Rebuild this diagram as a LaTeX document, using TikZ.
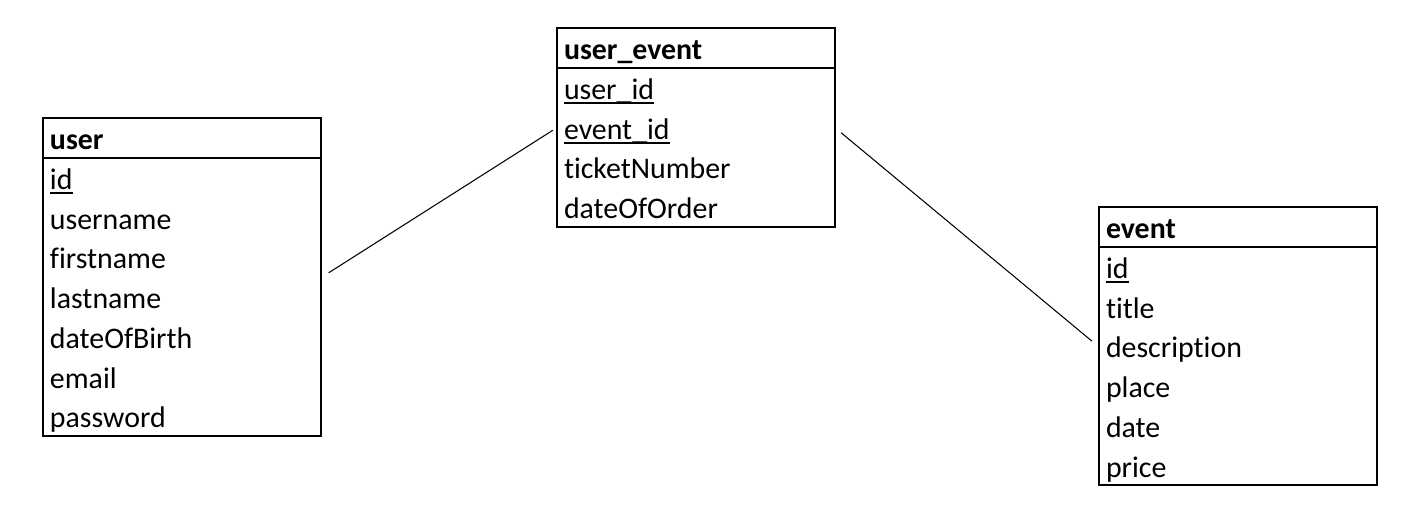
\documentclass[tikz,border=0pt]{standalone}
\usepackage{fontspec}
\setmainfont{Carlito}[Ligatures=NoCommon]
\usetikzlibrary{positioning,fit}
\newcommand{\pkey}[1]{\setbox0\hbox{#1}\rlap{\rule[-2.6pt]{\wd0}{0.9pt}}\box0}

\begin{document}
\begin{tikzpicture}[x=0.02cm, y=-0.02cm,
    tablehead/.style={draw, line width=1.1pt, anchor=north west, outer sep=0pt,
      text width=5.28cm, inner xsep=0.14cm, inner ysep=0pt, align=left,
      text height=0.64cm, text depth=0.16cm, font=\fontsize{17}{20}\selectfont\bfseries},
    tablerow/.style={outer sep=0pt, text width=5.28cm, inner xsep=0.14cm, inner ysep=0pt,
      align=left, text height=0.63cm, text depth=0.165cm, font=\fontsize{17}{20}\selectfont},
    tablebox/.style={draw, line width=1.1pt, inner sep=0pt},
    relation/.style={line width=0.6pt}]
  \useasboundingbox (0,0) rectangle (1418,517);

  % user table
  \node[tablehead] (uHead) at (43,118) {user};
  \node[tablerow, below=0pt of uHead] (uRow1) {\pkey{id}};
  \node[tablerow, below=0pt of uRow1] (uRow2) {username};
  \node[tablerow, below=0pt of uRow2] (uRow3) {firstname};
  \node[tablerow, below=0pt of uRow3] (uRow4) {lastname};
  \node[tablerow, below=0pt of uRow4] (uRow5) {dateOfBirth};
  \node[tablerow, below=0pt of uRow5] (uRow6) {email};
  \node[tablerow, below=0pt of uRow6] (uRow7) {password};
  \node[tablebox, fit=(uHead)(uRow7)] (user) {};

  % user_event table
  \node[tablehead] (ueHead) at (557,28) {user\_event};
  \node[tablerow, below=0pt of ueHead] (ueRow1) {\pkey{user\_id}};
  \node[tablerow, below=0pt of ueRow1] (ueRow2) {\pkey{event\_id}};
  \node[tablerow, below=0pt of ueRow2] (ueRow3) {ticketNumber};
  \node[tablerow, below=0pt of ueRow3] (ueRow4) {dateOfOrder};
  \node[tablebox, fit=(ueHead)(ueRow4)] (userEvent) {};

  % event table
  \node[tablehead] (eHead) at (1099,207) {event};
  \node[tablerow, below=0pt of eHead] (eRow1) {\pkey{id}};
  \node[tablerow, below=0pt of eRow1] (eRow2) {title};
  \node[tablerow, below=0pt of eRow2] (eRow3) {description};
  \node[tablerow, below=0pt of eRow3] (eRow4) {place};
  \node[tablerow, below=0pt of eRow4] (eRow5) {date};
  \node[tablerow, below=0pt of eRow5] (eRow6) {price};
  \node[tablebox, fit=(eHead)(eRow6)] (event) {};

  % relations
  \draw[relation, shorten <=0.16cm, shorten >=0.1cm] (user.east) -- (ueRow2.west);
  \draw[relation, shorten <=0.16cm, shorten >=0.16cm] (ueRow2.east) -- (event.west);
\end{tikzpicture}
\end{document}
